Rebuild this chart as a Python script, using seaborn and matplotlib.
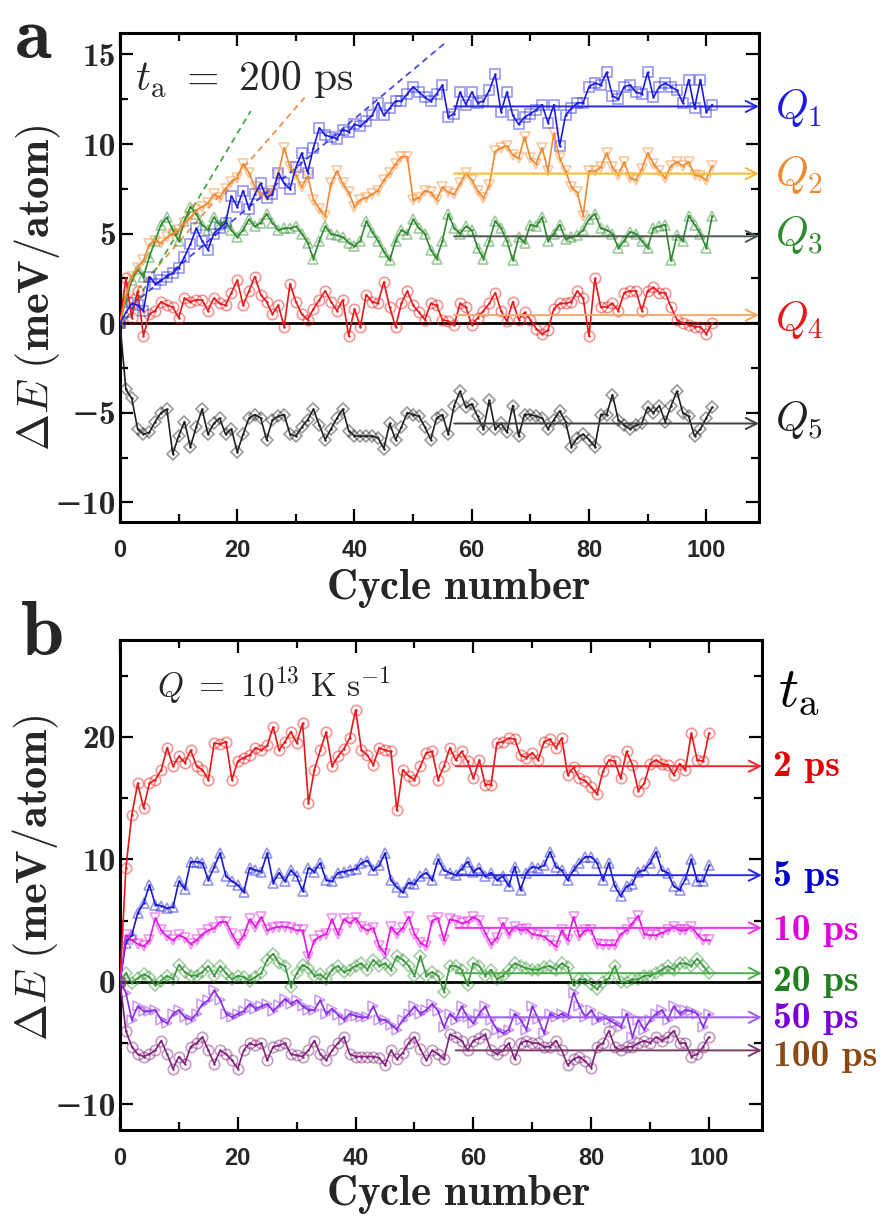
import numpy as np
import matplotlib
matplotlib.use("Agg")
import matplotlib.pyplot as plt
from matplotlib.colors import to_rgba
from matplotlib.ticker import MultipleLocator
import seaborn as sns

# ---------------- data ----------------
cycles_a = np.arange(0, 102)
cycles_b = np.arange(0, 101)

q1 = [0.0, 0.6, 1.1, 1.0, 0.7, 2.6, 2.2, 2.4, 2.6, 2.8,
      3.1, 3.7, 4.4, 5.3, 4.6, 4.1, 5.0, 5.3, 5.6, 7.1,
      6.5, 7.4, 6.4, 7.2, 7.8, 7.0, 7.2, 8.4, 7.8, 7.5,
      8.7, 9.5, 8.4, 9.8, 10.9, 10.5, 10.4, 10.3, 10.8, 10.7,
      11.1, 11.0, 11.3, 11.6, 12.3, 11.6, 12.0, 12.4, 12.4, 12.8,
      13.2, 12.9, 12.6, 12.4, 12.8, 13.3, 11.5, 11.7, 12.9, 12.2,
      12.9, 12.3, 12.4, 13.0, 13.9, 11.8, 12.9, 11.6, 11.1, 11.5,
      11.7, 11.9, 12.2, 11.2, 12.2, 9.9, 11.6, 12.0, 12.3, 12.3,
      13.2, 13.4, 13.3, 14.0, 12.7, 12.5, 13.2, 13.3, 12.9, 12.8,
      14.0, 12.6, 13.2, 13.4, 13.2, 13.0, 12.3, 13.6, 12.0, 13.6,
      11.8, 12.2]
q2 = [0.0, 1.5, 2.6, 3.1, 3.5, 4.4, 4.6, 4.5, 4.8, 5.0,
      5.2, 5.6, 5.9, 6.3, 6.5, 6.7, 7.2, 7.0, 7.5, 7.9,
      8.1, 8.9, 8.4, 7.6, 7.2, 7.1, 7.4, 8.3, 9.8, 8.7,
      8.3, 7.6, 8.2, 6.9, 6.4, 6.0, 7.8, 8.5, 7.8, 7.3,
      6.5, 6.9, 7.0, 7.2, 7.4, 8.0, 8.4, 8.9, 9.3, 9.3,
      6.9, 7.0, 7.4, 7.3, 6.9, 7.6, 7.3, 7.2, 7.8, 8.4,
      8.0, 7.4, 7.0, 7.7, 9.6, 9.8, 9.9, 9.4, 9.2, 10.4,
      9.2, 8.9, 9.8, 8.5, 10.6, 9.2, 8.5, 7.6, 7.3, 6.0,
      8.5, 8.5, 8.7, 9.5, 8.7, 8.3, 9.0, 8.1, 8.0, 8.6,
      9.5, 8.9, 8.5, 8.1, 8.8, 9.0, 8.8, 9.0, 8.3, 8.2,
      8.0, 8.8]
q3 = [0.0, 1.3, 2.4, 3.0, 2.6, 3.7, 4.6, 5.5, 5.9, 5.2,
      4.6, 5.7, 6.5, 6.1, 5.5, 5.2, 5.9, 5.5, 5.7, 5.2,
      4.8, 5.2, 5.8, 5.4, 5.6, 6.1, 5.6, 5.2, 5.3, 5.3,
      5.4, 5.0, 4.5, 3.6, 4.6, 5.4, 5.0, 4.9, 4.8, 4.5,
      4.3, 4.6, 5.7, 5.1, 4.6, 4.0, 3.5, 4.6, 5.2, 5.0,
      5.8, 5.3, 5.0, 4.1, 3.6, 4.6, 6.1, 5.3, 5.0, 5.4,
      5.2, 4.2, 3.6, 4.6, 5.7, 5.3, 4.6, 3.5, 4.8, 4.5,
      5.5, 5.4, 5.9, 4.6, 5.0, 5.5, 4.7, 4.8, 4.9, 5.2,
      5.8, 6.1, 5.3, 5.2, 5.0, 4.2, 4.6, 5.1, 5.0, 4.6,
      4.2, 5.3, 5.4, 5.5, 3.5, 4.9, 4.6, 6.0, 5.5, 5.0,
      4.2, 6.0]
q4 = [0.0, 2.5, 0.3, 1.8, -0.7, 0.5, 0.7, 1.2, 1.0, 0.9,
      0.3, 1.4, 1.2, 1.3, 1.3, 0.7, 1.4, 1.1, 1.0, 1.7,
      2.4, 1.0, 1.8, 2.6, 1.6, 1.2, 0.5, 1.0, -0.2, 2.2,
      1.2, 0.5, 0.2, 0.8, 1.3, 1.8, 1.2, 0.7, 1.3, -0.7,
      0.8, -0.2, 1.6, 1.2, 1.1, 2.3, 0.9, -0.2, 1.1, 1.8,
      1.0, 0.6, 0.2, 1.1, 1.0, 0.2, 0.1, -0.1, 1.1, 0.9,
      -0.1, 0.3, 0.7, 1.1, 1.7, 0.7, 0.1, 1.2, 0.2, 0.6,
      0.2, -0.3, -0.6, -0.4, 0.8, 1.1, 1.1, 1.2, 1.8, 1.4,
      -0.7, 2.5, 0.9, 0.9, 1.1, 0.7, 1.7, 1.8, 1.8, 0.7,
      1.8, 2.0, 1.7, 1.7, 0.9, 0.2, 0.0, -0.1, -0.2, -0.2,
      -0.6, 0.0]
q5 = [0.0, -3.7, -4.2, -5.9, -6.2, -6.1, -5.5, -5.0, -4.8, -7.3,
      -6.3, -5.5, -6.9, -5.8, -4.8, -6.2, -5.6, -5.3, -6.2, -5.9,
      -7.2, -6.2, -5.3, -5.1, -5.3, -6.5, -5.4, -5.2, -5.1, -6.2,
      -6.3, -5.8, -5.4, -4.8, -5.7, -6.5, -5.9, -5.3, -4.8, -6.0,
      -6.3, -6.3, -6.3, -6.3, -6.4, -7.0, -5.6, -6.5, -5.8, -5.0,
      -5.1, -5.2, -5.8, -6.5, -5.3, -5.1, -6.2, -4.6, -3.8, -4.7,
      -4.5, -5.2, -5.9, -4.3, -5.9, -5.6, -6.1, -4.6, -6.3, -5.1,
      -5.1, -5.2, -5.3, -5.9, -5.4, -4.9, -5.5, -6.9, -6.4, -6.2,
      -6.5, -6.9, -5.1, -5.1, -4.0, -5.4, -5.7, -5.9, -5.7, -5.6,
      -4.7, -5.0, -4.6, -5.5, -4.6, -3.8, -5.0, -5.2, -6.3, -5.9,
      -5.3, -4.7]

t2 = [0.0, 9.3, 13.6, 16.2, 14.2, 16.2, 16.5, 17.3, 19.1, 17.6,
      18.4, 17.9, 18.9, 17.6, 17.3, 16.5, 19.5, 19.4, 19.6, 16.5,
      18.0, 18.3, 18.5, 19.1, 18.9, 19.3, 20.8, 18.9, 19.6, 20.4,
      19.5, 21.1, 14.6, 17.3, 18.9, 20.4, 17.6, 18.4, 19.0, 19.9,
      22.2, 18.9, 18.5, 17.7, 19.1, 18.9, 18.8, 14.0, 17.3, 16.8,
      16.5, 17.6, 18.7, 18.8, 16.5, 17.6, 19.1, 18.1, 18.8, 18.0,
      16.6, 18.1, 16.1, 16.1, 19.5, 19.6, 19.9, 19.8, 18.5, 18.3,
      18.7, 18.1, 19.6, 19.8, 19.1, 19.9, 16.9, 17.5, 16.6, 16.4,
      15.9, 15.3, 17.2, 18.1, 18.0, 16.6, 18.8, 17.7, 15.6, 16.2,
      17.8, 18.1, 17.8, 17.7, 16.9, 17.8, 17.3, 20.3, 18.1, 18.0,
      20.3]
t5 = [0.0, 3.2, 3.8, 5.6, 6.4, 7.9, 6.3, 6.2, 6.0, 6.1,
      8.2, 7.6, 9.8, 9.8, 9.7, 8.3, 9.4, 10.5, 8.6, 8.2,
      7.9, 7.3, 9.3, 9.1, 9.0, 10.5, 8.1, 8.9, 8.2, 9.1,
      8.6, 7.4, 9.3, 9.0, 9.7, 8.3, 8.2, 8.9, 9.0, 9.1,
      9.2, 9.7, 9.9, 9.1, 9.5, 10.5, 8.3, 7.7, 7.3, 8.1,
      8.0, 8.6, 8.9, 8.3, 10.0, 9.1, 8.9, 8.7, 9.2, 9.8,
      9.0, 9.3, 8.6, 8.9, 8.3, 8.6, 7.8, 9.4, 7.5, 8.9,
      9.4, 9.3, 9.5, 10.6, 9.4, 9.1, 8.3, 9.1, 9.7, 10.2,
      10.2, 9.7, 8.3, 9.7, 7.8, 7.0, 7.8, 8.0, 9.0, 9.1,
      9.7, 10.6, 9.1, 8.9, 7.8, 7.5, 8.4, 10.0, 8.2, 8.2,
      9.5]
t10 = [0.0, 3.8, 3.4, 3.1, 2.9, 3.4, 5.2, 4.2, 3.7, 3.4,
       3.8, 3.6, 3.1, 3.4, 3.9, 4.2, 4.4, 4.9, 4.9, 3.9,
       3.1, 3.8, 5.1, 4.5, 5.3, 4.2, 4.4, 4.5, 4.5, 4.4,
       4.2, 4.2, 2.0, 3.4, 3.7, 3.9, 5.1, 3.9, 5.1, 4.8,
       5.2, 4.5, 4.2, 4.4, 2.9, 2.3, 4.5, 3.9, 4.4, 5.3,
       3.9, 3.2, 2.9, 5.0, 5.2, 3.4, 5.1, 5.0, 4.8, 4.9,
       5.3, 5.0, 4.0, 3.1, 3.6, 4.8, 3.9, 4.5, 4.2, 4.3,
       3.9, 3.8, 3.7, 3.3, 2.9, 4.2, 3.4, 5.3, 3.7, 4.2,
       4.2, 3.1, 3.0, 3.0, 3.0, 3.9, 4.2, 4.8, 5.4, 3.9,
       3.8, 3.8, 4.0, 4.2, 4.5, 4.2, 4.2, 4.5, 3.9, 3.4,
       3.4]
t20 = [0.0, 0.7, -0.1, 0.3, 0.6, 0.4, -0.3, 0.1, 0.5, 0.2,
       1.4, 0.8, 0.5, 0.5, 0.8, 1.3, 0.5, 1.3, 0.7, 0.2,
       0.5, 0.4, 0.1, 0.4, 0.7, 1.8, 2.3, 1.5, 1.3, -0.4,
       0.7, 1.4, 1.1, 0.5, 0.6, 0.2, 1.0, 1.3, 0.8, 1.0,
       1.3, 1.5, 1.0, 1.8, 1.3, 1.5, 1.0, 2.1, 1.8, 1.3,
       0.5, 2.1, 0.5, 0.8, 0.5, -0.8, 1.3, 1.3, 1.0, -0.3,
       1.5, 1.3, 0.5, 1.0, 0.2, 0.5, 1.0, 1.5, 1.3, 1.1,
       1.0, 1.0, 1.2, 1.3, 1.0, 1.5, 1.2, -0.3, 0.2, 0.2,
       -0.2, -0.6, 0.0, 0.3, 1.3, 0.0, 0.0, 0.2, 0.2, 0.5,
       0.5, 0.7, 1.0, 1.3, 1.0, 1.5, 1.5, 1.3, 1.9, 1.3,
       0.7]
t50 = [0.0, -0.9, -3.1, -2.0, -2.4, -2.4, -2.3, -3.1, -3.4, -2.6,
       -2.3, -2.9, -3.1, -2.6, -1.8, -1.5, -0.7, -1.5, -2.6, -2.9,
       -2.6, -2.4, -1.8, -2.2, -2.0, -1.8, -2.4, -1.9, -1.4, -1.8,
       -1.5, -2.0, -2.3, -2.3, -1.5, -2.6, -2.2, -2.7, -3.1, -2.6,
       -2.8, -2.9, -2.9, -2.0, -3.1, -3.1, -3.5, -3.9, -3.1, -2.6,
       -2.0, -2.6, -2.3, -1.8, -2.4, -3.7, -2.6, -3.1, -2.0, -2.9,
       -3.4, -2.6, -2.0, -3.1, -3.9, -4.2, -3.9, -2.6, -3.1, -3.9,
       -2.0, -3.0, -4.2, -2.6, -2.9, -2.6, -2.9, -0.9, -2.0, -2.9,
       -2.3, -3.1, -2.9, -3.1, -3.4, -3.7, -2.6, -4.5, -3.1, -3.9,
       -3.1, -2.6, -2.3, -3.1, -2.0, -2.6, -2.3, -2.4, -2.6, -3.7,
       -2.6]
t100 = [0.0, -4.0, -5.3, -5.9, -6.1, -5.9, -5.6, -4.8, -5.9, -7.1,
        -6.1, -6.7, -5.3, -5.0, -4.5, -5.6, -6.7, -5.6, -5.9, -6.4,
        -7.1, -5.6, -5.0, -5.2, -5.0, -6.4, -5.3, -5.2, -5.0, -5.9,
        -6.0, -6.1, -5.6, -4.8, -5.9, -6.4, -5.6, -5.0, -4.5, -5.9,
        -6.1, -6.1, -6.1, -6.1, -6.2, -6.8, -5.6, -6.3, -5.8, -5.0,
        -4.5, -5.5, -6.4, -5.6, -5.9, -6.3, -4.3, -4.5, -4.8, -5.6,
        -4.8, -4.6, -4.3, -5.6, -5.9, -5.6, -5.0, -6.3, -5.0, -4.8,
        -5.0, -5.0, -5.3, -5.3, -4.8, -5.6, -6.8, -6.3, -6.1, -6.5,
        -7.0, -5.3, -5.0, -4.0, -5.3, -5.6, -5.3, -5.3, -5.0, -4.8,
        -5.0, -4.5, -4.8, -4.5, -4.0, -5.0, -5.0, -6.1, -5.9, -5.3,
        -4.5]

series_a = [q1, q2, q3, q4, q5]
labels_a = [r"$Q_1$", r"$Q_2$", r"$Q_3$", r"$Q_4$", r"$Q_5$"]
colors_a = ["#1c1ce0", "#f08a30", "#2e8a2e", "#e81818", "#202020"]
markers_a = ["s", "v", "^", "o", "D"]
msize_a = [6.5, 7.5, 7.5, 7.5, 6.5]
arrow_lvl_a = [12.1, 8.35, 4.85, 0.45, -5.6]
arrow_col_a = ["#2626e6", "#f5b830", "#4d5a4d", "#f2a868", "#404040"]
label_y_a = [12.0, 8.3, 4.9, 0.2, -5.4]

# early-time linear fits (slope, intercept, x range)
fit_slope = [0.274, 0.376, 0.546]
fit_icept = [0.45, 0.75, -0.33]
fit_x0 = [2.0, 0.5, 1.0]
fit_x1 = [55.7, 31.5, 22.3]
fit_col = ["#4848ea", "#f09050", "#48a848"]

series_b = [t2, t5, t10, t20, t50, t100]
labels_b = ["2 ps", "5 ps", "10 ps", "20 ps", "50 ps", "100 ps"]
colors_b = ["#e81616", "#1818d0", "#e018e0", "#3a963a", "#8a2be2", "#80207a"]
markers_b = ["o", "^", "v", "D", ">", "o"]
msize_b = [7.5, 7.5, 7.5, 6.5, 7.5, 7.5]
arrow_lvl_b = [17.6, 8.7, 4.4, 0.7, -2.9, -5.6]
arrow_col_b = ["#ee2a2a", "#2a2ae0", "#ee30ee", "#4cac4c", "#9a60e8", "#7a3a6a"]
label_col_b = ["#e00000", "#0000c8", "#e000e0", "#208020", "#7a00d8", "#8b4a14"]
label_y_b = [17.6, 8.6, 4.2, 0.0, -3.0, -6.1]

arrow_start = 57
xmax = 109

# ---------------- style ----------------
sns.set_theme(style="ticks")
plt.rcParams["font.family"] = ["DejaVu Serif"]
plt.rcParams["mathtext.fontset"] = "cm"
plt.rcParams["axes.unicode_minus"] = True

BOLD_SERIF = ["cmb10", "DejaVu Serif"]

fig = plt.figure(figsize=(8.9, 12.22), dpi=100)
ax_a = fig.add_axes([120 / 890, 1 - 522 / 1222, 639 / 890, 489 / 1222])
ax_b = fig.add_axes([120 / 890, 1 - 1130 / 1222, 642 / 890, 490 / 1222])


def draw_series(ax, x, y, color, marker, ms):
    sns.lineplot(x=x, y=y, ax=ax, color=color, lw=1.2, marker=".", ms=3.5,
                 mec=color, mew=0, zorder=3)
    sns.lineplot(x=x, y=y, ax=ax, color=color, linestyle="none", marker=marker,
                 ms=ms, mfc="none", mec=to_rgba(color, 0.45), mew=1.2, zorder=2)


def style_axis(ax, ylim, ymajor, yminor):
    ax.set_xlim(0, xmax)
    ax.set_ylim(*ylim)
    ax.axhline(0, color="black", lw=2.0, zorder=1)
    ax.set_xticks([0, 20, 40, 60, 80, 100])
    ax.set_xticklabels(["0", "20", "40", "60", "80", "100"],
                       fontfamily="Liberation Sans", fontweight="bold", fontsize=17)
    ax.xaxis.set_minor_locator(MultipleLocator(10))
    ax.set_yticks(ymajor)
    ax.set_yticklabels([("\u2212%d" % -v) if v < 0 else "%d" % v for v in ymajor],
                       fontfamily=BOLD_SERIF, fontsize=24)
    ax.yaxis.set_minor_locator(MultipleLocator(yminor))
    ax.tick_params(which="both", direction="in", top=True, right=True,
                   width=1.6, color="black")
    ax.tick_params(which="major", length=9.5)
    ax.tick_params(which="minor", length=5.5)
    ax.tick_params(axis="x", pad=12)
    ax.tick_params(axis="y", pad=3)
    for sp in ax.spines.values():
        sp.set_linewidth(2.2)
        sp.set_color("black")
    ax.set_xlabel("")
    ax.set_ylabel("")


# ---------------- panel a ----------------
for k in range(3):
    fx = np.array([fit_x0[k], fit_x1[k]])
    ax_a.plot(fx, fit_slope[k] * fx + fit_icept[k], ls=(0, (3.5, 2.5)),
              lw=1.3, color=fit_col[k], zorder=2)

for y, c, m, ms in zip(series_a[::-1], colors_a[::-1], markers_a[::-1], msize_a[::-1]):
    draw_series(ax_a, cycles_a, y, c, m, ms)

for lvl, c in zip(arrow_lvl_a, arrow_col_a):
    ax_a.annotate("", xy=(xmax, lvl), xytext=(arrow_start, lvl),
                  arrowprops=dict(arrowstyle="->", color=c, lw=1.4,
                                  mutation_scale=20, shrinkA=0, shrinkB=0),
                  zorder=4, annotation_clip=False)

for lab, ly, c in zip(labels_a, label_y_a, colors_a):
    ax_a.text(111.8, ly, lab, color=c, fontsize=30, ha="left", va="center",
              clip_on=False)

style_axis(ax_a, (-11.1, 16.2), [-10, -5, 0, 5, 10, 15], 2.5)
ax_a.text(0.024, 0.905, r"$t_{\rm a}\ =\ 200\ {\rm ps}$", transform=ax_a.transAxes,
          fontsize=30, ha="left", va="center")

# ---------------- panel b ----------------
for y, c, m, ms in zip(series_b, colors_b, markers_b, msize_b):
    draw_series(ax_b, cycles_b, y, c, m, ms)

for lvl, c in zip(arrow_lvl_b, arrow_col_b):
    ax_b.annotate("", xy=(xmax, lvl), xytext=(arrow_start, lvl),
                  arrowprops=dict(arrowstyle="->", color=c, lw=1.4,
                                  mutation_scale=20, shrinkA=0, shrinkB=0),
                  zorder=4, annotation_clip=False)

for lab, ly, c in zip(labels_b, label_y_b, label_col_b):
    ax_b.text(110.9, ly, lab, color=c, fontfamily=BOLD_SERIF,
              fontsize=27, ha="left", va="center", clip_on=False)

ax_b.text(111.7, 23.8, r"$t_{\rm a}$", color="black", fontsize=40,
          ha="left", va="center", clip_on=False)

style_axis(ax_b, (-12.1, 27.9), [-10, 0, 10, 20], 5)
ax_b.text(0.058, 0.908, r"$Q\ =\ 10^{13}\ \mathrm{K\ s^{-1}}$", transform=ax_b.transAxes,
          fontsize=24, ha="left", va="center")

# ---------------- labels ----------------
ylab = r"$\Delta E\ \mathbf{(meV/atom)}$"
fig.text(38 / 890, 1 - 288 / 1222, ylab, rotation=90, fontsize=32,
         ha="center", va="center")
fig.text(36 / 890, 1 - 878 / 1222, ylab, rotation=90, fontsize=32,
         ha="center", va="center")
fig.text(458 / 890, 1 - 588 / 1222, r"$\mathbf{Cycle\ number}$", fontsize=31,
         ha="center", va="center")
fig.text(458 / 890, 1 - 1195 / 1222, r"$\mathbf{Cycle\ number}$", fontsize=31,
         ha="center", va="center")
fig.text(14 / 890, 1 - 1 / 1222, r"$\mathbf{a}$", fontsize=54, ha="left",
         va="top")
fig.text(20 / 890, 1 - 655 / 1222, r"$\mathbf{b}$", fontsize=56, ha="left",
         va="baseline")

fig.savefig("out.png", dpi=100)
